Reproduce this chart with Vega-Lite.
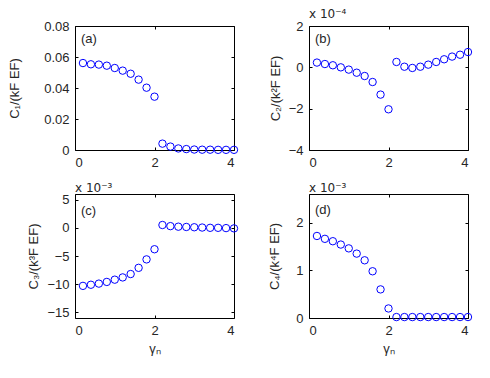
{
  "$schema": "https://vega.github.io/schema/vega-lite/v6.json",
  "padding": {"left": 8, "top": 7, "right": 5, "bottom": 5},
  "background": "white",
  "config": {
    "font": "Liberation Sans",
    "view": {"stroke": "#000000", "strokeWidth": 1},
    "axis": {
      "grid": false,
      "domain": false,
      "tickSize": -3,
      "tickColor": "#000000",
      "labelPadding": 9,
      "labelFont": "Liberation Sans",
      "labelFontSize": 13,
      "labelColor": "#262626",
      "titleFont": "Liberation Sans",
      "titleFontSize": 13,
      "titleFontWeight": "normal",
      "titleColor": "#262626"
    },
    "title": {"font": "DejaVu Sans", "fontSize": 12, "fontWeight": "normal", "anchor": "start", "color": "#262626", "offset": -1, "frame": "group", "baseline": "alphabetic"}
  },
  "data": {
    "values": [
      {"g": 0.2, "c1": 0.0561, "c2": 0.23, "c3": -10.3, "c4": 1.72},
      {"g": 0.4, "c1": 0.0553, "c2": 0.16, "c3": -10.1, "c4": 1.66},
      {"g": 0.6, "c1": 0.0551, "c2": 0.10, "c3": -9.9, "c4": 1.61},
      {"g": 0.8, "c1": 0.0544, "c2": 0.00, "c3": -9.6, "c4": 1.54},
      {"g": 1.0, "c1": 0.0529, "c2": -0.11, "c3": -9.2, "c4": 1.46},
      {"g": 1.2, "c1": 0.0512, "c2": -0.26, "c3": -8.8, "c4": 1.35},
      {"g": 1.4, "c1": 0.0492, "c2": -0.42, "c3": -8.2, "c4": 1.21},
      {"g": 1.6, "c1": 0.0454, "c2": -0.71, "c3": -7.1, "c4": 0.98},
      {"g": 1.8, "c1": 0.0402, "c2": -1.32, "c3": -5.6, "c4": 0.60},
      {"g": 2.0, "c1": 0.0344, "c2": -2.03, "c3": -3.8, "c4": 0.20},
      {"g": 2.2, "c1": 0.0041, "c2": 0.26, "c3": 0.5, "c4": 0.02},
      {"g": 2.4, "c1": 0.0022, "c2": 0.03, "c3": 0.3, "c4": 0.02},
      {"g": 2.6, "c1": 0.0010, "c2": -0.03, "c3": 0.2, "c4": 0.02},
      {"g": 2.8, "c1": 0.0006, "c2": 0.03, "c3": 0.15, "c4": 0.02},
      {"g": 3.0, "c1": 0.0003, "c2": 0.13, "c3": 0.1, "c4": 0.02},
      {"g": 3.2, "c1": 0.0002, "c2": 0.26, "c3": 0.05, "c4": 0.02},
      {"g": 3.4, "c1": 0.0002, "c2": 0.39, "c3": 0.0, "c4": 0.02},
      {"g": 3.6, "c1": 0.0001, "c2": 0.52, "c3": 0.0, "c4": 0.02},
      {"g": 3.8, "c1": 0.0001, "c2": 0.61, "c3": -0.05, "c4": 0.02},
      {"g": 4.0, "c1": 0.0001, "c2": 0.74, "c3": -0.1, "c4": 0.02}
    ]
  },
  "columns": 2,
  "spacing": {"row": 44, "column": 75},
  "bounds": "flush",
  "concat": [
    {
      "width": 159, "height": 124,
      "layer": [
        {
          "mark": {"type": "point", "shape": "circle", "filled": false, "color": "#0000ff", "size": 55, "strokeWidth": 1, "opacity": 1},
          "encoding": {
            "x": {"field": "g", "type": "quantitative", "scale": {"domain": [0, 4]}, "axis": {"values": [0, 2, 4], "title": null}},
            "y": {"field": "c1", "type": "quantitative", "scale": {"domain": [0, 0.08]}, "axis": {"values": [0, 0.02, 0.04, 0.06, 0.08], "format": "~g", "title": "C₁/(kF EF)", "titlePadding": 22}}
          }
        },
        {
          "data": {"values": [{"x": 0.15, "y": 0.0755, "t": "(a)"}]},
          "mark": {"type": "text", "align": "left", "baseline": "top", "fontSize": 13, "color": "#262626"},
          "encoding": {
            "x": {"field": "x", "type": "quantitative", "axis": {"orient": "top", "values": [0, 2, 4], "labels": false, "title": null}},
            "y": {"field": "y", "type": "quantitative", "axis": {"orient": "right", "values": [0, 0.02, 0.04, 0.06, 0.08], "labels": false, "title": null}},
            "text": {"field": "t"}
          }
        }
      ],
      "resolve": {"axis": {"x": "independent", "y": "independent"}}
    },
    {
      "width": 159, "height": 124,
      "title": "x 10⁻⁴",
      "layer": [
        {
          "mark": {"type": "point", "shape": "circle", "filled": false, "color": "#0000ff", "size": 55, "strokeWidth": 1, "opacity": 1},
          "encoding": {
            "x": {"field": "g", "type": "quantitative", "scale": {"domain": [0, 4]}, "axis": {"values": [0, 2, 4], "title": null}},
            "y": {"field": "c2", "type": "quantitative", "scale": {"domain": [-4, 2]}, "axis": {"values": [-4, -2, 0, 2], "format": "~g", "title": "C₂/(k²F EF)", "titlePadding": 6}}
          }
        },
        {
          "data": {"values": [{"x": 0.15, "y": 1.65, "t": "(b)"}]},
          "mark": {"type": "text", "align": "left", "baseline": "top", "fontSize": 13, "color": "#262626"},
          "encoding": {
            "x": {"field": "x", "type": "quantitative", "axis": {"orient": "top", "values": [0, 2, 4], "labels": false, "title": null}},
            "y": {"field": "y", "type": "quantitative", "axis": {"orient": "right", "values": [-4, -2, 0, 2], "labels": false, "title": null}},
            "text": {"field": "t"}
          }
        }
      ],
      "resolve": {"axis": {"x": "independent", "y": "independent"}}
    },
    {
      "width": 159, "height": 124,
      "title": "x 10⁻³",
      "layer": [
        {
          "mark": {"type": "point", "shape": "circle", "filled": false, "color": "#0000ff", "size": 55, "strokeWidth": 1, "opacity": 1},
          "encoding": {
            "x": {"field": "g", "type": "quantitative", "scale": {"domain": [0, 4]}, "axis": {"values": [0, 2, 4], "title": "γₙ", "titlePadding": 5}},
            "y": {"field": "c3", "type": "quantitative", "scale": {"domain": [-15, 5]}, "axis": {"values": [-15, -10, -5, 0, 5], "format": "~g", "title": "C₃/(k³F EF)", "titlePadding": 6}}
          }
        },
        {
          "data": {"values": [{"x": 0.15, "y": 4.1, "t": "(c)"}]},
          "mark": {"type": "text", "align": "left", "baseline": "top", "fontSize": 13, "color": "#262626"},
          "encoding": {
            "x": {"field": "x", "type": "quantitative", "axis": {"orient": "top", "values": [0, 2, 4], "labels": false, "title": null}},
            "y": {"field": "y", "type": "quantitative", "axis": {"orient": "right", "values": [-15, -10, -5, 0, 5], "labels": false, "title": null}},
            "text": {"field": "t"}
          }
        }
      ],
      "resolve": {"axis": {"x": "independent", "y": "independent"}}
    },
    {
      "width": 159, "height": 124,
      "title": "x 10⁻³",
      "layer": [
        {
          "mark": {"type": "point", "shape": "circle", "filled": false, "color": "#0000ff", "size": 55, "strokeWidth": 1, "opacity": 1},
          "encoding": {
            "x": {"field": "g", "type": "quantitative", "scale": {"domain": [0, 4]}, "axis": {"values": [0, 2, 4], "title": "γₙ", "titlePadding": 5}},
            "y": {"field": "c4", "type": "quantitative", "scale": {"domain": [0, 2.5]}, "axis": {"values": [0, 1, 2], "format": "~g", "title": "C₄/(k⁴F EF)", "titlePadding": 14}}
          }
        },
        {
          "data": {"values": [{"x": 0.15, "y": 2.39, "t": "(d)"}]},
          "mark": {"type": "text", "align": "left", "baseline": "top", "fontSize": 13, "color": "#262626"},
          "encoding": {
            "x": {"field": "x", "type": "quantitative", "axis": {"orient": "top", "values": [0, 2, 4], "labels": false, "title": null}},
            "y": {"field": "y", "type": "quantitative", "axis": {"orient": "right", "values": [0, 1, 2], "labels": false, "title": null}},
            "text": {"field": "t"}
          }
        }
      ],
      "resolve": {"axis": {"x": "independent", "y": "independent"}}
    }
  ]
}
